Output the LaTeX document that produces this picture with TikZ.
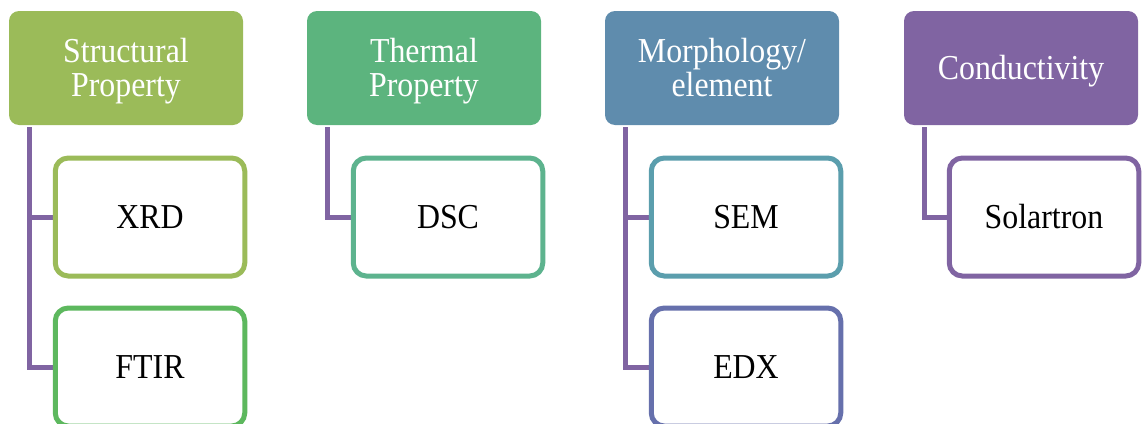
\documentclass[tikz,border=0pt]{standalone}
\usepackage{fontspec}
\setmainfont{Liberation Serif}[FakeStretch=0.91]
\definecolor{hA}{HTML}{9BBB59}
\definecolor{hB}{HTML}{5CB47E}
\definecolor{hC}{HTML}{5F8CAD}
\definecolor{hD}{HTML}{8064A2}
\definecolor{cXRD}{HTML}{9BBB59}
\definecolor{cFTIR}{HTML}{5DB85E}
\definecolor{cDSC}{HTML}{5DB38E}
\definecolor{cSEM}{HTML}{5B9EAD}
\definecolor{cEDX}{HTML}{6670AC}
\definecolor{cSOL}{HTML}{8064A2}
\definecolor{conncol}{HTML}{8064A2}
\tikzset{
  hdr/.style={rectangle, rounded corners=10pt, minimum width=234pt, minimum height=114pt,
    inner sep=0pt},
  hdrtext/.style={text=white, align=center, inner sep=0pt, yshift=-3.5pt,
    font=\fontsize{35pt}{34pt}\selectfont},
  child/.style={rectangle, rounded corners=13pt, draw, line width=5pt, fill=white,
    minimum width=189.5pt, minimum height=118pt, inner sep=0pt,
    font=\fontsize{35pt}{34pt}\selectfont},
  conn/.style={draw=conncol, line width=5pt}
}
\begin{document}
\begin{tikzpicture}[x=1pt,y=-1pt]
\useasboundingbox (0,0) rectangle (1142,423);
\clip (0,0) rectangle (1142,423);
% headers
\node[hdr, fill=hA, label={[hdrtext]center:Structural\\Property}] (h1) at (126,68) {};
\node[hdr, fill=hB, label={[hdrtext]center:Thermal\\Property}] (h2) at (424,68) {};
\node[hdr, fill=hC, label={[hdrtext]center:Morphology/\\element\vphantom{y}}] (h3) at (722,68) {};
\node[hdr, fill=hD, label={[hdrtext]center:Conductivity}] (h4) at (1021,68) {};
% anchor points of the connectors
\coordinate (t1) at ([xshift=21pt,yshift=-2pt]h1.south west);
\coordinate (t2) at ([xshift=21pt,yshift=-2pt]h2.south west);
\coordinate (t3) at ([xshift=21pt,yshift=-2pt]h3.south west);
\coordinate (t4) at ([xshift=21pt,yshift=-2pt]h4.south west);
% child centres
\path (150,217) coordinate (p1) (150,367) coordinate (p2)
      (448,217) coordinate (p3)
      (746,217) coordinate (p4) (746,367) coordinate (p5)
      (1044,217) coordinate (p6);
% connectors (drawn first)
\draw[conn] (t1) |- ([xshift=-96pt]p2);
\draw[conn] (t1) |- ([xshift=-96pt]p1);
\draw[conn] (t2) |- ([xshift=-96pt]p3);
\draw[conn] (t3) |- ([xshift=-96pt]p5);
\draw[conn] (t3) |- ([xshift=-96pt]p4);
\draw[conn] (t4) |- ([xshift=-96pt]p6);
% children
\node[child, draw=cXRD] (xrd) at (p1) {XRD};
\node[child, draw=cFTIR] (ftir) at (p2) {FTIR};
\node[child, draw=cDSC] (dsc) at (p3) {DSC};
\node[child, draw=cSEM] (sem) at (p4) {SEM};
\node[child, draw=cEDX] (edx) at (p5) {EDX};
\node[child, draw=cSOL] (sol) at (p6) {Solartron};
\end{tikzpicture}
\end{document}
